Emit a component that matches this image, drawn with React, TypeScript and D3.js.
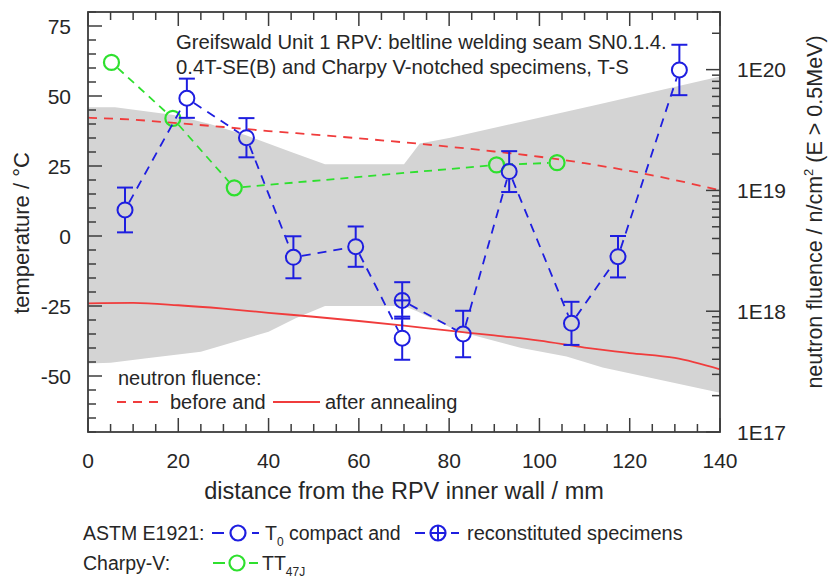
import React from "react";
import * as d3 from "d3";

// Distance grid (mm) for the neutron fluence profiles
const fluenceDist = [0, 10, 20, 30, 40, 50, 60, 70, 80, 90, 100, 110, 120, 130, 140];
// Fluence before annealing, n/cm² (E > 0.5 MeV)
const fluenceBefore = [4.0e19, 3.85e19, 3.6e19, 3.35e19, 3.1e19, 2.9e19, 2.7e19, 2.5e19, 2.3e19, 2.1e19, 1.9e19, 1.68e19, 1.45e19, 1.22e19, 1.0e19];
// Fluence after annealing
const fluenceAfter = [1.16e18, 1.17e18, 1.12e18, 1.05e18, 9.7e17, 9.0e17, 8.3e17, 7.6e17, 6.9e17, 6.3e17, 5.7e17, 5.0e17, 4.5e17, 4.1e17, 3.3e17];

// Scatter band of the reference temperature (°C)
const bandUpperDist = [0, 6, 19, 27, 35, 45, 52.5, 70, 73.5, 80, 113, 140];
const bandUpperTemp = [46, 46, 43.2, 40, 36, 30, 25.6, 25.6, 33, 35, 47, 57];
const bandLowerDist = [0, 5, 13, 25, 40, 46, 52.5, 70, 73, 82, 96, 106, 114, 140];
const bandLowerTemp = [-45.5, -45.3, -43.7, -41.3, -34.2, -29.4, -25, -25, -27, -34, -40, -43, -47, -56];

// ASTM E1921 T0, compact specimens
const t0Dist = [8.2, 21.9, 35.1, 45.5, 59.3, 69.6, 83.1, 93.3, 107.1, 117.4, 131];
const t0Temp = [9.3, 49.2, 35.1, -7.6, -3.8, -36.5, -35, 23, -31.2, -7.4, 59.3];
const t0Err = [8, 7, 7, 7.5, 7.2, 7.7, 8.3, 7.3, 7.7, 7.4, 9];

// ASTM E1921 T0, reconstituted specimens
const recDist = [69.6];
const recTemp = [-23];
const recErr = [6.5];

// Charpy-V TT47J
const cvDist = [5.2, 18.8, 32.4, 90.5, 103.9];
const cvTemp = [62, 42, 17.2, 25.4, 26.2];

const xMajorTicks = [0, 20, 40, 60, 80, 100, 120, 140];
const yMajorTicks = [75, 50, 25, 0, -25, -50];
const fluenceDecades = [1e17, 1e18, 1e19, 1e20];
const fluenceLabels = ["1E17", "1E18", "1E19", "1E20"];

const W = 829;
const H = 580;
const L = 88, R = 720, T = 12, B = 432;

const FONT = "'Liberation Sans', Arial, Helvetica, sans-serif";
const TEXT = "#262626";
const FRAME = "#3c3c3c";
const BLUE = "#1e1ee0";
const RED = "#f03c3c";
const GREEN = "#2ee02e";
const BAND = "#d4d4d4";
const R_SYM = 7.5;

const x = d3.scaleLinear().domain([0, 140]).range([L, R]);
const y = d3.scaleLinear().domain([-70, 80]).range([B, T]);
const yF = d3.scaleLog().domain([1e17, 3e20]).range([B, T]);

// Polyline with gaps around the symbols at each vertex
function gappedSegments(pts: [number, number][], gap: number) {
  const segs: { x1: number; y1: number; x2: number; y2: number }[] = [];
  for (let i = 0; i < pts.length - 1; i++) {
    const [ax, ay] = pts[i];
    const [bx, by] = pts[i + 1];
    const dx = bx - ax, dy = by - ay;
    const len = Math.hypot(dx, dy);
    if (len <= 2 * gap) continue;
    const ux = dx / len, uy = dy / len;
    segs.push({ x1: ax + ux * gap, y1: ay + uy * gap, x2: bx - ux * gap, y2: by - uy * gap });
  }
  return segs;
}

function ErrorSymbol({ cx, cy, top, bot, plus }: { cx: number; cy: number; top: number; bot: number; plus?: boolean }) {
  const cap = 8;
  return (
    <g stroke={BLUE} strokeWidth={2} fill="none">
      {plus ? (
        <line x1={cx} x2={cx} y1={top} y2={bot} />
      ) : (
        <>
          <line x1={cx} x2={cx} y1={top} y2={cy - R_SYM} />
          <line x1={cx} x2={cx} y1={cy + R_SYM} y2={bot} />
        </>
      )}
      <line x1={cx - cap} x2={cx + cap} y1={top} y2={top} />
      <line x1={cx - cap} x2={cx + cap} y1={bot} y2={bot} />
      <circle cx={cx} cy={cy} r={R_SYM} />
      {plus && <line x1={cx - R_SYM} x2={cx + R_SYM} y1={cy} y2={cy} />}
    </g>
  );
}

export default function App() {
  const bandPts: [number, number][] = [
    ...bandUpperDist.map((d, i) => [x(d), y(bandUpperTemp[i])] as [number, number]),
    ...bandLowerDist.map((d, i) => [x(d), y(bandLowerTemp[i])] as [number, number]).reverse(),
  ];
  const bandPath = "M" + bandPts.map((p) => p.join(",")).join("L") + "Z";

  const lineBefore = d3.line<number>().x((_, i) => x(fluenceDist[i])).y((v) => yF(v)).curve(d3.curveMonotoneX)(fluenceBefore) || "";
  const lineAfter = d3.line<number>().x((_, i) => x(fluenceDist[i])).y((v) => yF(v)).curve(d3.curveMonotoneX)(fluenceAfter) || "";

  // blue path order: compact points plus the reconstituted one, by distance
  const blueAll = [
    ...t0Dist.map((d, i) => ({ d, t: t0Temp[i], k: 0 })),
    ...recDist.map((d, i) => ({ d, t: recTemp[i], k: 1 })),
  ].sort((a, b) => a.d - b.d || a.k - b.k);
  const blueSegs = gappedSegments(blueAll.map((p) => [x(p.d), y(p.t)] as [number, number]), R_SYM + 1);
  const greenSegs = gappedSegments(cvDist.map((d, i) => [x(d), y(cvTemp[i])] as [number, number]), R_SYM + 1);

  const xMinor = d3.range(0, 141, 5).filter((v) => v % 20 !== 0);
  const yMinor = d3.range(-70, 81, 5).filter((v) => v % 25 !== 0);
  const fMinor: number[] = [];
  for (const dec of [1e17, 1e18, 1e19, 1e20]) {
    for (let m = 2; m <= 9; m++) {
      const v = m * dec;
      if (v <= 3e20) fMinor.push(v);
    }
  }

  const MAJ = 14, MIN = 8;

  return (
    <div style={{ position: "absolute", left: 0, top: 0 }}>
      <svg width={W} height={H} style={{ display: "block", background: "#fff" }} fontFamily={FONT}>
        <defs>
          <clipPath id="plotArea">
            <rect x={L} y={T} width={R - L} height={B - T} />
          </clipPath>
        </defs>

        {/* scatter band */}
        <path d={bandPath} fill={BAND} clipPath="url(#plotArea)" />

        {/* neutron fluence profiles */}
        <g clipPath="url(#plotArea)" fill="none" stroke={RED} strokeWidth={1.8}>
          <path d={lineBefore} strokeDasharray="9 7" />
          <path d={lineAfter} />
        </g>

        {/* ticks */}
        <g stroke={FRAME} strokeWidth={1.5}>
          {xMajorTicks.map((v) => (
            <g key={"xm" + v}>
              <line x1={x(v)} x2={x(v)} y1={B} y2={B - MAJ} />
              <line x1={x(v)} x2={x(v)} y1={T} y2={T + MAJ} />
            </g>
          ))}
          {xMinor.map((v) => (
            <g key={"xn" + v}>
              <line x1={x(v)} x2={x(v)} y1={B} y2={B - MIN} />
              <line x1={x(v)} x2={x(v)} y1={T} y2={T + MIN} />
            </g>
          ))}
          {yMajorTicks.map((v) => (
            <line key={"ym" + v} x1={L} x2={L + MAJ} y1={y(v)} y2={y(v)} />
          ))}
          {yMinor.map((v) => (
            <line key={"yn" + v} x1={L} x2={L + MIN} y1={y(v)} y2={y(v)} />
          ))}
          {fluenceDecades.map((v) => (
            <line key={"fm" + v} x1={R} x2={R - MAJ} y1={yF(v)} y2={yF(v)} />
          ))}
          {fMinor.map((v) => (
            <line key={"fn" + v} x1={R} x2={R - MIN} y1={yF(v)} y2={yF(v)} />
          ))}
        </g>

        {/* Charpy-V TT47J */}
        <g stroke={GREEN} strokeWidth={1.8} fill="none">
          {greenSegs.map((s, i) => (
            <line key={"g" + i} {...s} strokeDasharray="8 6" />
          ))}
          {cvDist.map((d, i) => (
            <circle key={"gc" + i} cx={x(d)} cy={y(cvTemp[i])} r={R_SYM} strokeWidth={2.2} />
          ))}
        </g>

        {/* T0 */}
        <g stroke={BLUE} strokeWidth={1.8} fill="none">
          {blueSegs.map((s, i) => (
            <line key={"b" + i} {...s} strokeDasharray="9 7" />
          ))}
        </g>
        {t0Dist.map((d, i) => (
          <ErrorSymbol key={"t0" + i} cx={x(d)} cy={y(t0Temp[i])} top={y(t0Temp[i] + t0Err[i])} bot={y(t0Temp[i] - t0Err[i])} />
        ))}
        {recDist.map((d, i) => (
          <ErrorSymbol key={"rc" + i} cx={x(d)} cy={y(recTemp[i])} top={y(recTemp[i] + recErr[i])} bot={y(recTemp[i] - recErr[i])} plus />
        ))}

        {/* frame */}
        <rect x={L} y={T} width={R - L} height={B - T} fill="none" stroke={FRAME} strokeWidth={1.8} />

        {/* title block */}
        <g fill={TEXT} fontSize={20.3}>
          <text x={176} y={49}>Greifswald Unit 1 RPV: beltline welding seam SN0.1.4.</text>
          <text x={176} y={74}>0.4T-SE(B) and Charpy V-notched specimens, T-S</text>
        </g>

        {/* fluence legend */}
        <g fontSize={20} fill={TEXT}>
          <text x={118} y={385}>neutron fluence:</text>
          <line x1={117} x2={164} y1={402} y2={402} stroke={RED} strokeWidth={1.8} strokeDasharray="9 7" />
          <text x={170} y={409}>before and</text>
          <line x1={273} x2={320} y1={402} y2={402} stroke={RED} strokeWidth={1.8} />
          <text x={325} y={409}>after annealing</text>
        </g>

        {/* axis labels */}
        <g fill={TEXT} fontSize={21}>
          {xMajorTicks.map((v) => (
            <text key={"xl" + v} x={x(v)} y={468} textAnchor="middle">{v}</text>
          ))}
          {yMajorTicks.map((v) => (
            <text key={"yl" + v} x={71} y={y(v)} dy="0.36em" textAnchor="end">{v}</text>
          ))}
          {fluenceDecades.map((v, i) => (
            <text key={"fl" + v} x={737} y={yF(v)} dy="0.36em">{fluenceLabels[i]}</text>
          ))}
        </g>
        <g fill={TEXT}>
          <text x={(L + R) / 2} y={499} textAnchor="middle" fontSize={23.5}>distance from the RPV inner wall / mm</text>
          <text transform="translate(29,233) rotate(-90)" textAnchor="middle" fontSize={22}>temperature / °C</text>
          <text transform="translate(822,212) rotate(-90)" textAnchor="middle" fontSize={21.5}>
            neutron fluence / n/cm<tspan dy="-9" fontSize={13}>2</tspan>
            <tspan dy="9"> (E &gt; 0.5MeV)</tspan>
          </text>
        </g>

        {/* symbol legend */}
        <g fontSize={19.5} fill={TEXT}>
          <text x={83} y={540}>ASTM E1921:</text>
          <line x1={212} x2={224} y1={533} y2={533} stroke={BLUE} strokeWidth={2} />
          <circle cx={238} cy={533} r={R_SYM} fill="none" stroke={BLUE} strokeWidth={2.2} />
          <line x1={252} x2={259} y1={533} y2={533} stroke={BLUE} strokeWidth={2} />
          <text x={265} y={540}>T<tspan dy="6" fontSize={12}>0</tspan><tspan dy="-6"> compact and</tspan></text>
          <line x1={415} x2={425} y1={533} y2={533} stroke={BLUE} strokeWidth={2} />
          <circle cx={438} cy={533} r={R_SYM} fill="none" stroke={BLUE} strokeWidth={2.2} />
          <line x1={438 - R_SYM} x2={438 + R_SYM} y1={533} y2={533} stroke={BLUE} strokeWidth={2} />
          <line x1={438} x2={438} y1={533 - R_SYM} y2={533 + R_SYM} stroke={BLUE} strokeWidth={2} />
          <line x1={451} x2={459} y1={533} y2={533} stroke={BLUE} strokeWidth={2} />
          <text x={467} y={540} fontSize={20}>reconstituted specimens</text>

          <text x={83} y={570}>Charpy-V:</text>
          <line x1={213} x2={225} y1={563} y2={563} stroke={GREEN} strokeWidth={2} />
          <circle cx={237} cy={563} r={R_SYM} fill="none" stroke={GREEN} strokeWidth={2.2} />
          <line x1={249} x2={258} y1={563} y2={563} stroke={GREEN} strokeWidth={2} />
          <text x={262} y={570}>TT<tspan dy="6" fontSize={12}>47J</tspan></text>
        </g>
      </svg>
    </div>
  );
}
